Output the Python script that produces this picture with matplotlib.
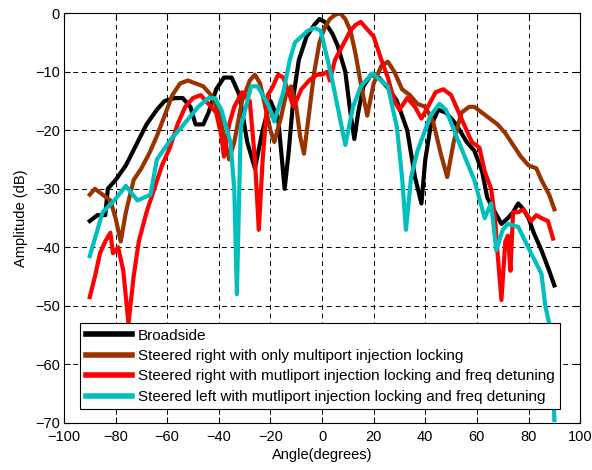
import numpy as np
import matplotlib
matplotlib.use("Agg")
import matplotlib.pyplot as plt

plt.rcParams['font.family'] = ['Liberation Sans', 'DejaVu Sans']

# Broadside
bs_x = [-90, -87, -84, -83, -80, -76, -72, -68, -64, -61, -57, -54, -51, -49, -46, -44,
        -41, -38, -35, -32, -29, -26, -23, -20, -17, -14.5, -13, -11, -9, -6, -3, -1, 1,
        4, 6, 9, 11, 12.5, 14, 16, 19, 22, 26, 29, 33, 36, 38.5, 40, 42, 45, 48, 52, 56,
        59, 62, 64, 67, 69.5, 72, 74, 76, 78, 80, 82, 85, 88, 90]
bs_y = [-35.5, -34.5, -34.5, -30, -28.5, -26, -22.5, -19, -16.5, -15, -14.5, -14.5, -16,
        -19, -19, -17, -13, -11, -11, -14, -22, -26.5, -20, -15, -18, -30, -24, -14, -8,
        -4, -2, -1, -1.5, -3.5, -5.5, -10, -17, -21.5, -17, -12.5, -10.5, -11, -13, -15,
        -20, -28, -32.5, -25, -19.5, -16.5, -17, -19, -22, -23.5, -27, -31.5, -34, -36,
        -35, -34, -32.5, -33.5, -35, -37.5, -40.5, -44, -46.5]

# Steered right, multiport injection locking only
sr_x = [-90, -88, -85, -82, -80, -78, -76, -73, -70, -67, -64, -61, -58, -55, -52, -49,
        -46, -43, -40, -38, -36, -34, -31, -28, -26, -24, -22, -20, -18.5, -16, -14, -12,
        -10, -8.5, -7, -5, -3, -1, 1, 3, 5, 7, 9, 11, 13, 15, 17.5, 20, 23, 25.5, 28, 31,
        34, 37, 40, 43, 46, 48.5, 51, 54, 57, 59, 62, 65, 68, 71, 74, 77, 80, 83, 85, 88, 90]
sr_y = [-31, -30, -31, -32, -35, -39, -34, -28.5, -26.5, -24, -21, -17.5, -14, -12, -11.5,
        -12, -12.5, -14, -17, -21, -25, -22, -15, -11.5, -10.5, -12, -16, -20, -22, -18,
        -14, -12.5, -16, -21, -24, -17, -10, -5, -2.5, -1, -0.3, 0, -1, -3, -7, -12,
        -17.5, -12, -9, -8.3, -10, -13, -14, -15.5, -16, -18.5, -24, -28, -22, -17, -16,
        -16, -17, -18, -19, -20.5, -22.5, -24.5, -26, -26.5, -28.5, -31, -33.5]

# Steered right, multiport injection locking + freq detuning
sd_x = [-90, -88, -86, -84, -82, -81, -79, -77, -75, -73, -71, -68, -65, -62, -59, -56,
        -53, -50, -47, -44, -41, -39, -38, -36, -34, -31, -28, -26, -24.5, -23, -21, -19,
        -17, -15, -13, -11, -8, -5, -2, 0, 2, 3, 5, 8, 11, 13, 15, 17, 20, 23, 25.5, 28,
        30, 33, 36, 38.5, 41, 44, 47, 50, 53, 56, 58, 61, 63, 65.5, 67, 68, 69.5, 71, 72,
        73, 74, 76, 78, 81, 83, 85, 87.5, 89.5]
sd_y = [-48.5, -45, -41, -39, -37.5, -41, -40, -44, -53, -45, -39, -34, -30, -26, -23,
        -19, -16, -14.5, -14, -15.5, -17, -21, -24.5, -19, -16, -13.5, -15, -25, -37, -25,
        -14, -12.5, -10.5, -11, -13.5, -16, -13, -11.5, -10.5, -10.5, -10, -11.5, -8, -5.5,
        -3, -2, -1.5, -2.5, -4, -8, -11, -15, -16.5, -14.5, -16, -18, -16, -13.5, -13, -14,
        -17, -20, -22, -23, -27, -30, -35, -41, -49, -39, -38, -44, -34, -34, -33.5, -35.5,
        -34.5, -35, -35.5, -38.5]

# Steered left, multiport injection locking + freq detuning
sl_x = [-90, -85, -80.5, -76, -71.5, -66.5, -64, -58.5, -54.5, -48, -44, -41.5, -39,
        -35.5, -34, -33, -31.5, -27.5, -25, -21, -18.5, -15, -12.5, -10.5, -5.5, -3,
        -0.5, 3.5, 6.5, 9, 12, 15, 19.5, 25.5, 29, 31, 32.5, 34.5, 37, 42, 45.5, 48,
        52.5, 59, 63, 65.5, 67.5, 70, 72, 76, 81, 85, 86.5, 89, 90]
sl_y = [-41.5, -34, -32, -29.5, -32, -31, -25, -21.5, -19.5, -16, -14.5, -14.5, -16.5,
        -22, -30, -48, -19.5, -12.5, -12.5, -15.5, -18.5, -13.5, -8, -5, -3, -2.5, -3,
        -10.5, -17, -22.5, -16, -12.5, -10.3, -12.5, -19.5, -28, -37, -28, -23.5, -17.5,
        -15.5, -16.5, -21.5, -28.5, -35, -32.5, -40.5, -37, -36, -36.5, -41, -44.5, -50,
        -55, -69.5]

labels = ['Broadside',
          'Steered right with only multiport injection locking',
          'Steered right with mutliport injection locking and freq detuning',
          'Steered left with mutliport injection locking and freq detuning']
colors = ['#000000', '#993300', '#ff0000', '#00bfbf']

fig = plt.figure(figsize=(5.92, 4.70), dpi=100)
ax = fig.add_axes([0.108, 0.1, 0.872, 0.872])

series = [(bs_x, bs_y), (sr_x, sr_y), (sd_x, sd_y), (sl_x, sl_y)]
for (xs, ys), lab, c in zip(series, labels, colors):
    ax.plot(xs, ys, color=c, lw=3, label=lab, solid_joinstyle='round')

ax.set_xlim(-100, 100)
ax.set_ylim(-70, 0)
ax.set_xticks(np.arange(-100, 101, 20))
ax.set_yticks(np.arange(-70, 1, 10))
ax.grid(True, color='black', linestyle=(0, (5, 4)), linewidth=0.7)
ax.tick_params(direction='in', top=True, right=True, labelsize=10.5, length=4, width=0.8)
ax.tick_params(axis='x', pad=5)
ax.tick_params(axis='y', pad=3)
for s in ax.spines.values():
    s.set_linewidth(0.8)
ax.set_xlabel('Angle(degrees)', fontsize=10.5, labelpad=3)
ax.set_ylabel('Amplitude (dB)', fontsize=10.5, labelpad=5)

leg = ax.legend(loc='lower left', bbox_to_anchor=(0.017, 0.015), fontsize=11,
                fancybox=False, framealpha=1, edgecolor='black', handlelength=3.0,
                handletextpad=0.4, borderpad=0.35, labelspacing=0.42)
leg.get_frame().set_linewidth(0.8)
for h in leg.get_lines():
    h.set_linewidth(4)

fig.savefig('out.png', dpi=100)
